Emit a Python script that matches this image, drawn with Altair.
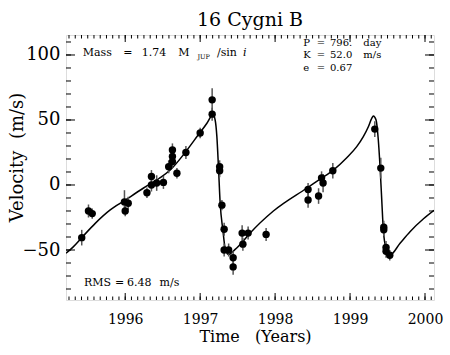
import altair as alt
import pandas as pd

# Observations (year, velocity m/s, error m/s)
obs_year = [1995.42, 1995.51, 1995.56, 1995.99, 1996.00, 1996.04, 1996.29, 1996.35, 1996.35,
            1996.42, 1996.51, 1996.58, 1996.63, 1996.63, 1996.63, 1996.69, 1996.81, 1997.00,
            1997.16, 1997.16, 1997.26, 1997.26, 1997.29, 1997.32, 1997.32, 1997.38, 1997.44,
            1997.44, 1997.56, 1997.57, 1997.64, 1997.88, 1998.44, 1998.44, 1998.58, 1998.62,
            1998.64, 1998.77, 1999.33, 1999.41, 1999.45, 1999.45, 1999.48, 1999.48, 1999.53]
obs_vel = [-40.5, -20.0, -22.0, -13.0, -20.0, -14.0, -6.0, 6.5, 0.0,
           1.5, 2.0, 14.0, 27.0, 22.0, 18.0, 9.0, 25.0, 40.0,
           65.5, 54.5, 14.0, 11.0, -15.5, -34.0, -50.0, -50.0, -56.0,
           -63.0, -37.0, -45.5, -37.0, -38.0, -3.5, -11.5, -8.5, 5.5,
           1.5, 11.0, 43.0, 13.0, -32.5, -34.5, -48.0, -51.0, -54.0]
obs_err = [6, 5, 4, 9, 4, 5, 4, 5, 5,
           6, 5, 5, 5, 5, 5, 4, 5, 4,
           9, 5, 5, 5, 4, 5, 5, 5, 5,
           6, 6, 5, 5, 5, 5, 6, 6, 5,
           7, 6, 6, 8, 5, 5, 5, 5, 4]

# Orbit fit curve
fit_year = [1995.21, 1995.30, 1995.42, 1995.60, 1995.80, 1995.99, 1996.24, 1996.45, 1996.60,
            1996.80, 1996.99, 1997.09, 1997.156, 1997.169, 1997.20, 1997.223, 1997.244, 1997.267,
            1997.303, 1997.333, 1997.377, 1997.467, 1997.577, 1997.667, 1997.977, 1998.42, 1998.60,
            1998.777, 1998.956, 1999.089, 1999.177, 1999.244, 1999.289, 1999.311, 1999.347, 1999.377,
            1999.40, 1999.423, 1999.444, 1999.48, 1999.533, 1999.667, 1999.80, 1999.98, 2000.12]
fit_vel = [-52.5, -48.0, -40.5, -29.5, -19.2, -12.0, -2.5, 5.0, 11.5,
           25.0, 39.8, 47.5, 53.8, 54.6, 50.0, 37.2, 14.1, -14.1,
           -34.6, -48.5, -53.5, -49.5, -43.0, -37.0, -20.0, -2.5, 4.5,
           11.5, 21.0, 29.5, 37.2, 44.8, 51.3, 53.1, 50.0, 34.6,
           14.1, -11.5, -34.6, -48.7, -53.8, -44.8, -35.9, -26.0, -19.5]

x_labels = [1996, 1997, 1998, 1999, 2000]
y_labels = [-50, 0, 50, 100]
x_minor = [round(1995.25 + i / 12, 4) for i in range(59)]
y_minor = list(range(-80, 111, 10))

XDOM = [1995.21, 2000.12]
YDOM = [-88.46, 115.38]
W, H = 368, 265
FONT = "DejaVu Serif"

obs = pd.DataFrame({"year": obs_year, "vel": obs_vel, "err": obs_err})
obs["lo"] = obs["vel"] - obs["err"]
obs["hi"] = obs["vel"] + obs["err"]
fit = pd.DataFrame({"year": fit_year, "vel": fit_vel})

xs = alt.Scale(domain=XDOM, nice=False, zero=False)
ys = alt.Scale(domain=YDOM, nice=False, zero=False)

xaxis = alt.Axis(values=x_labels, format="d", ticks=False, tickSize=0, domain=False, grid=False,
                 labelFont=FONT, labelFontSize=14, labelPadding=12, labelColor="black",
                 title="Time\u00a0\u00a0\u00a0(Years)", titleFont=FONT, titleFontSize=16,
                 titleFontWeight="normal", titleColor="black", titleBaseline="alphabetic",
                 titleX=189, titleY=41, titleAnchor="middle")
yaxis = alt.Axis(values=y_labels, ticks=False, tickSize=0, domain=False, grid=False,
                 labelFont=FONT, labelFontSize=18, labelPadding=6, labelColor="black",
                 title="Velocity\u00a0\u00a0(m/s)", titleFont=FONT, titleFontSize=18,
                 titleFontWeight="normal", titleColor="black", titleX=-49, titleY=122,
                 titleAngle=270, titleBaseline="middle", titleAlign="center")

xmaj = pd.DataFrame({"v": x_labels})
xmin = pd.DataFrame({"v": x_minor})
ymaj = pd.DataFrame({"v": y_labels})
ymin = pd.DataFrame({"v": y_minor})


def xticks(df, L):
    b = alt.Chart(df).mark_rule(color="black", strokeWidth=1).encode(
        x=alt.X("v:Q", scale=xs, axis=xaxis), y=alt.value(H), y2=alt.value(H - L))
    t = alt.Chart(df).mark_rule(color="black", strokeWidth=1).encode(
        x=alt.X("v:Q", scale=xs, axis=xaxis), y=alt.value(0), y2=alt.value(L))
    return [b, t]


def yticks(df, L):
    l = alt.Chart(df).mark_rule(color="black", strokeWidth=1).encode(
        y=alt.Y("v:Q", scale=ys, axis=yaxis), x=alt.value(0), x2=alt.value(L))
    r = alt.Chart(df).mark_rule(color="black", strokeWidth=1).encode(
        y=alt.Y("v:Q", scale=ys, axis=yaxis), x=alt.value(W), x2=alt.value(W - L))
    return [l, r]


ticks = xticks(xmaj, 7) + xticks(xmin, 3.5) + yticks(ymaj, 9) + yticks(ymin, 5)

curve = alt.Chart(fit).mark_line(color="black", strokeWidth=1.5, interpolate="monotone",
                                 clip=True).encode(
    x=alt.X("year:Q", scale=xs, axis=xaxis), y=alt.Y("vel:Q", scale=ys, axis=yaxis))

bars = alt.Chart(obs).mark_rule(color="#555555", strokeWidth=1.5).encode(
    x=alt.X("year:Q", scale=xs, axis=xaxis), y=alt.Y("lo:Q", scale=ys, axis=yaxis), y2="hi:Q")

pts = alt.Chart(obs).mark_circle(color="black", size=55, opacity=1).encode(
    x=alt.X("year:Q", scale=xs, axis=xaxis), y=alt.Y("vel:Q", scale=ys, axis=yaxis))


def txt(s, x, y, size=11, style="normal"):
    return alt.Chart(pd.DataFrame({"t": [s]})).mark_text(
        text=s, font=FONT, fontSize=size, fontStyle=style, align="left",
        baseline="middle", color="black").encode(x=alt.value(x), y=alt.value(y))


texts = [
    txt("Mass", 16.7, 18.3), txt("=", 57.3, 18.3), txt("1.74", 75.7, 18.3),
    txt("M", 112.3, 18.3), txt("JUP", 131.5, 21.5, size=6.5),
    txt("/sin", 151, 18.3), txt("i", 177, 18.3, style="italic"),
    txt("P", 237.3, 8.0, 10), txt("=", 250.7, 8.0, 10), txt("796.", 264, 8.0, 10),
    txt("day", 297.3, 8.0, 10),
    txt("K", 237.3, 20.3, 10), txt("=", 250.7, 20.3, 10), txt("52.0", 264, 20.3, 10),
    txt("m/s", 297.3, 20.3, 10),
    txt("e", 237.3, 32.6, 10), txt("=", 250.7, 32.6, 10), txt("0.67", 264, 32.6, 10),
    txt("RMS", 18, 248.3), txt("=", 49, 248.3), txt("6.48", 61, 248.3), txt("m/s", 93.5, 248.3),
]

chart = alt.layer(*ticks, curve, bars, pts, *texts).properties(
    width=W, height=H,
    title=alt.TitleParams("16 Cygni B", font=FONT, fontSize=19, fontWeight="normal",
                          color="black", anchor="middle", offset=5),
    autosize=alt.AutoSizeParams(type="none"),
    padding={"left": 66, "top": 35, "right": 16, "bottom": 55},
).configure_view(stroke="black", strokeWidth=1.2).configure(background="white")

chart.save("out.html", embed_options={"renderer": "svg", "actions": False})
